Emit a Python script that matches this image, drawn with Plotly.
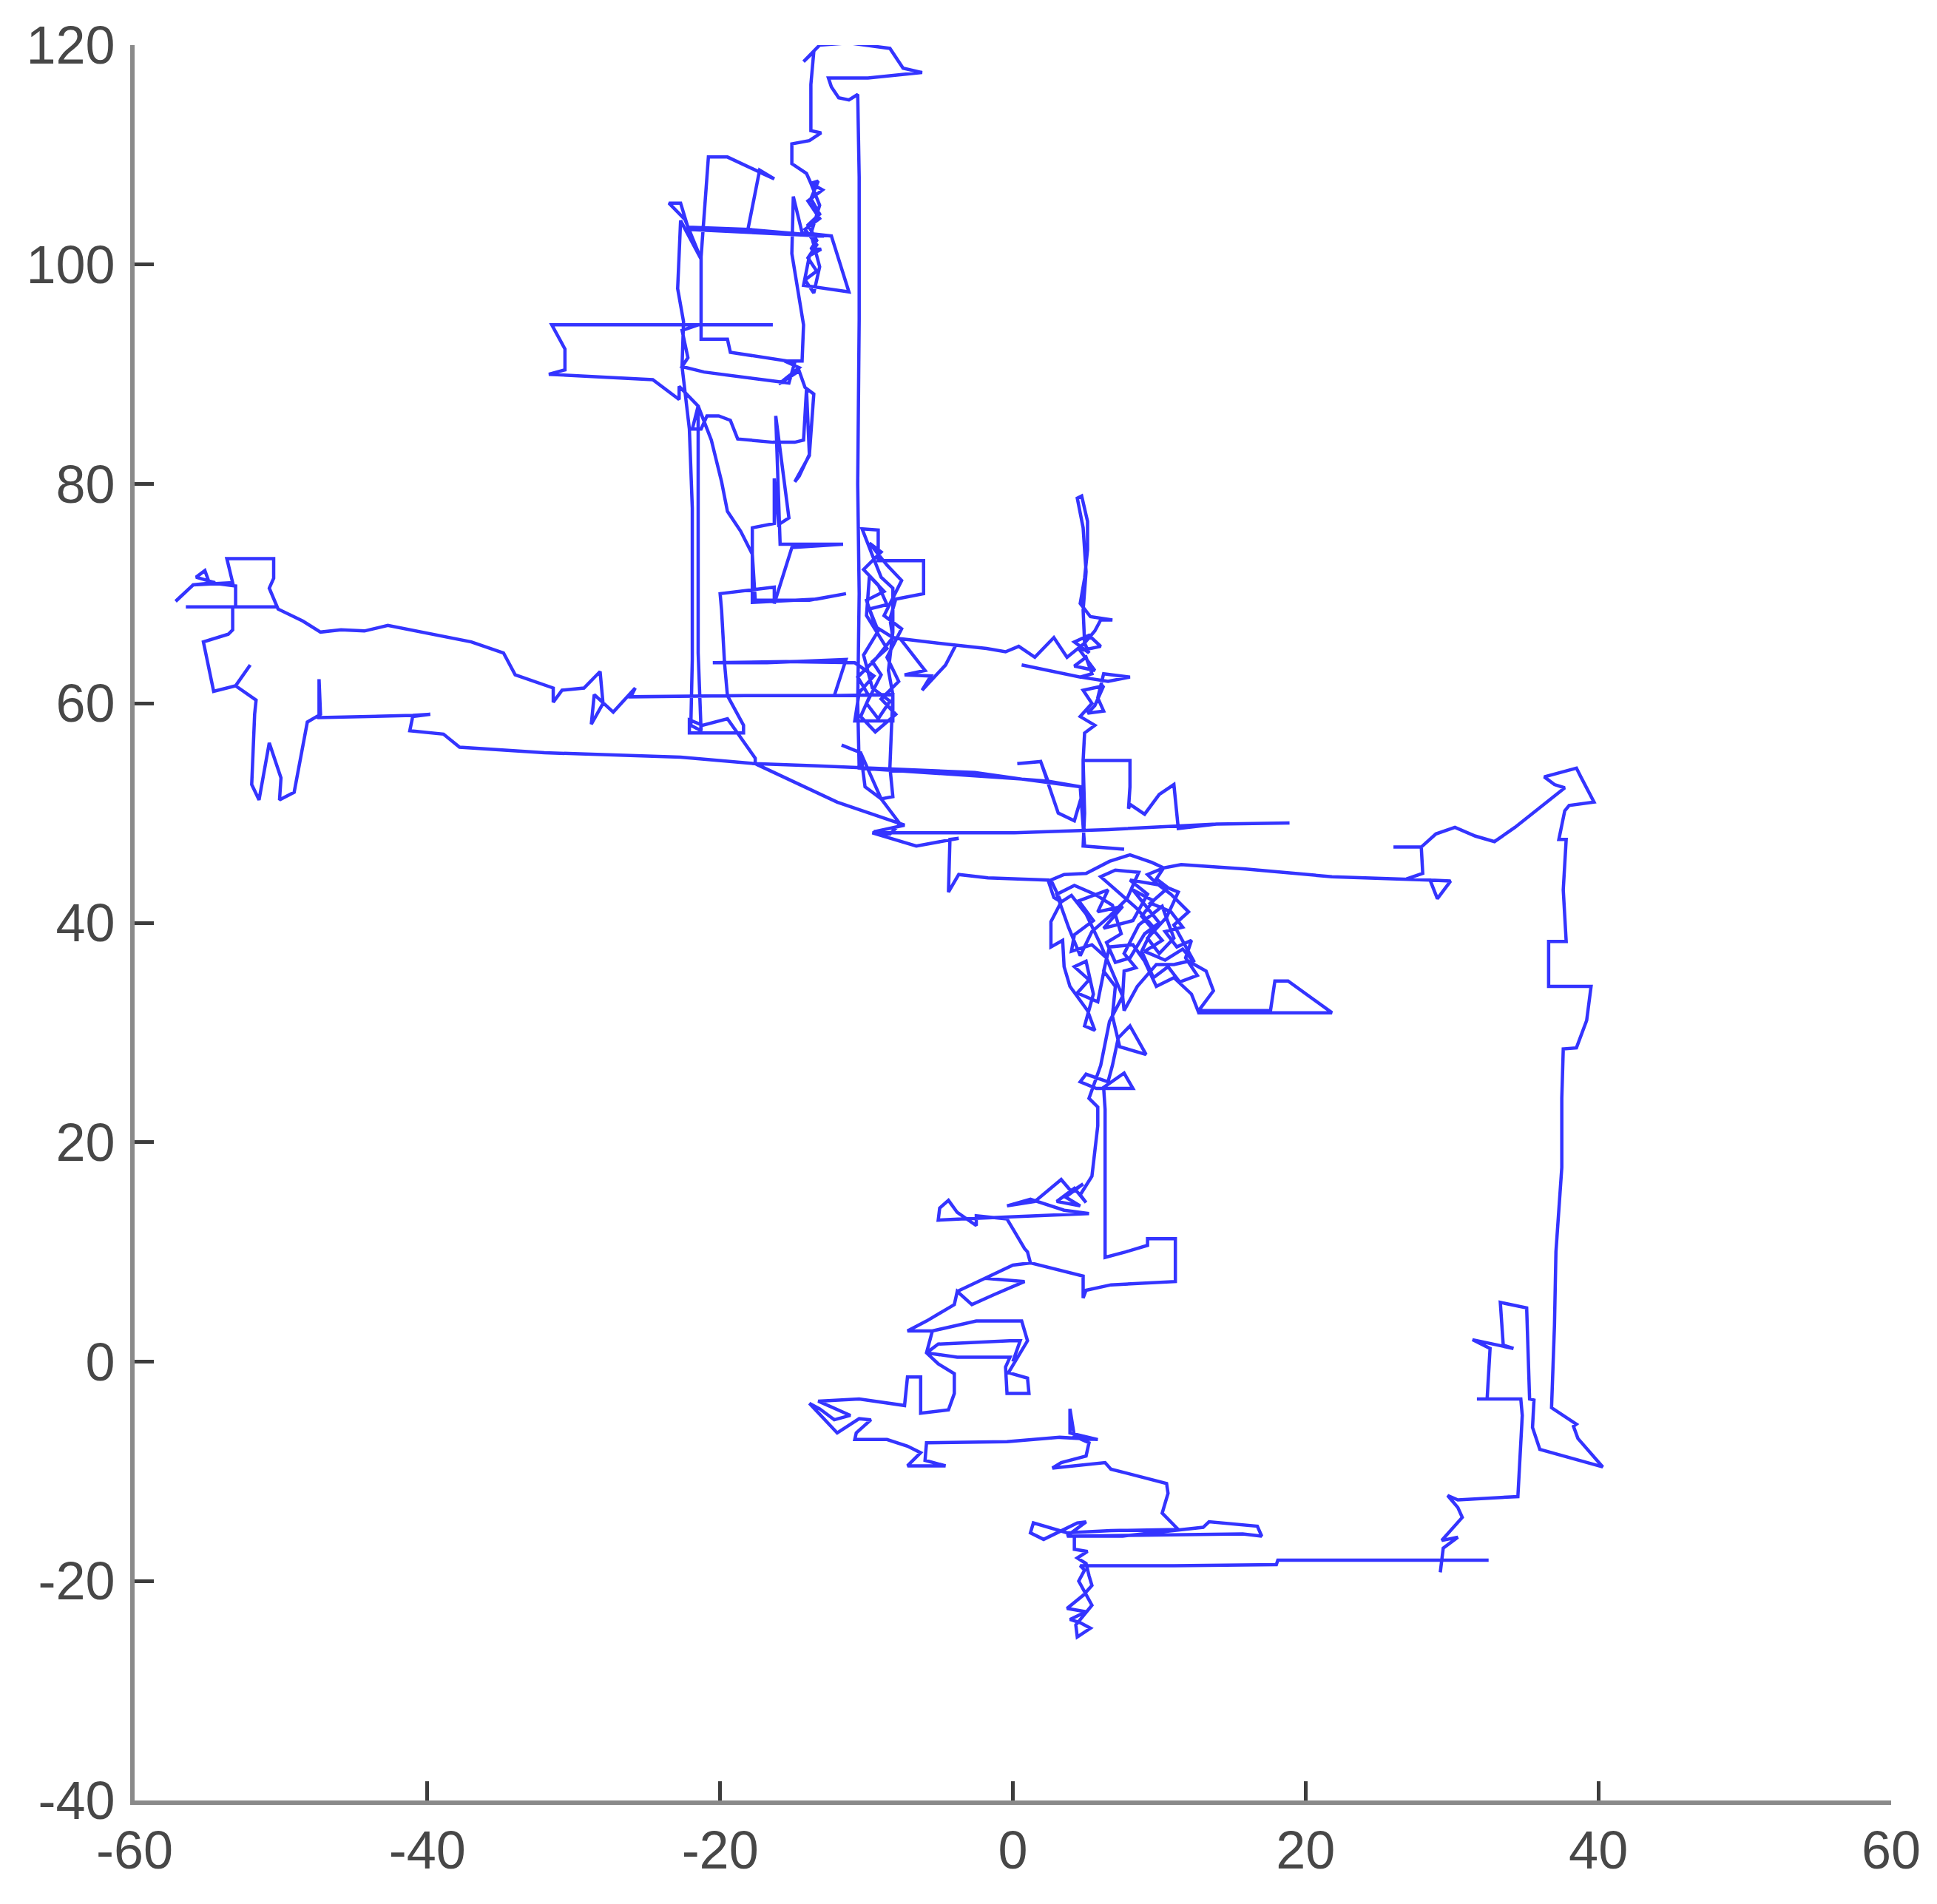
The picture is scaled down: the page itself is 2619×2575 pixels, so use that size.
import plotly.graph_objects as go

# the walk as (x, y) points
origin_and_lower = [
    (0, 0), (0.5, 1.9), (-0.2, 1.9), (-5.1, 1.6), (-5.9, 0.8), (-3.8, 0.4), (-2.3, 0.4), (-0.2, 0.4),
    (-0.5, -0.5), (-0.4, -2.9), (1.1, -2.9), (1.0, -1.5), (-0.3, -1.0), (1.0, 1.9), (0.6, 3.7),
    (-2.5, 3.7), (-5.5, 2.8), (-7.2, 2.8), (-5.9, 3.7), (-4.0, 5.2), (-3.8, 6.4), (-2.8, 5.2),
    (-1.3, 6.1), (0.8, 7.3), (-1.9, 7.6), (0.0, 8.8), (1.2, 9.0), (0.0, 8.8), (-1.9, 7.6),
    (-3.8, 6.4), (-4.0, 5.2), (-5.9, 3.7), (-7.2, 2.8), (-5.5, 2.8), (-5.9, 0.8), (-5.1, -0.2),
    (-4.0, -1.1), (-4.0, -2.9), (-4.4, -4.4), (-6.3, -4.7), (-6.3, -1.4), (-7.2, -1.4), (-7.4, -4.0),
    (-10.5, -3.4), (-13.3, -3.6), (-11.1, -4.9), (-12.2, -5.3), (-13.2, -4.3), (-13.9, -3.8),
    (-12.6, -5.6), (-12.0, -6.5), (-10.5, -5.2), (-9.7, -5.3), (-10.7, -6.5), (-10.8, -7.1),
    (-8.6, -7.1), (-7.2, -7.7), (-6.3, -8.3), (-7.2, -9.5), (-4.6, -9.5), (-6.0, -9.0), (-5.9, -7.4),
    (-0.4, -7.3), (3.2, -6.9), (5.0, -7.0), (5.8, -7.1), (3.9, -6.5), (3.9, -4.3), (4.2, -6.8),
    (5.2, -7.4), (5.0, -8.6), (3.3, -9.2), (2.7, -9.7), (6.3, -9.2), (6.7, -9.8), (10.5, -11.1),
    (10.6, -12.0), (10.2, -13.8), (11.3, -15.3), (6.7, -15.4), (3.7, -15.6), (1.4, -14.7),
    (1.2, -15.6), (2.1, -16.2), (4.4, -14.7), (5.0, -14.6), (3.7, -15.9), (7.5, -15.9), (13.0, -15.1),
    (13.4, -14.6), (16.7, -15.0), (17.0, -15.9), (15.7, -15.7), (4.2, -15.9), (4.2, -17.1),
    (5.1, -17.3), (4.4, -17.9), (5.0, -18.4),
]

bottom_and_right = [
    (5.2, -19.5), (5.4, -20.4), (4.8, -21.3), (3.7, -22.5), (5.0, -22.8), (3.9, -23.5), (4.6, -23.8),
    (5.3, -24.3), (4.4, -25.1), (4.3, -24.0), (5.4, -22.2), (4.5, -20.0), (4.9, -19.0), (4.6, -18.6),
    (11.0, -18.6), (18.0, -18.5), (18.1, -18.1), (26.0, -18.1), (32.5, -18.1), (29.3, -18.1),
    (29.2, -19.2), (29.4, -17.0), (30.4, -16.0), (29.3, -16.3), (30.7, -14.2), (30.4, -13.3),
    (29.7, -12.2), (30.4, -12.6), (34.5, -12.3), (34.6, -9.9), (34.8, -4.9), (34.7, -3.4),
    (31.7, -3.4), (32.4, -3.4), (32.6, 1.2), (31.4, 2.0), (34.2, 1.2), (33.5, 1.5), (33.3, 5.4),
    (35.1, 4.9), (35.3, -3.4), (35.6, -3.5), (35.5, -6.0), (36.0, -8.0), (40.3, -9.6), (38.6, -7.0),
    (38.3, -5.9), (38.5, -5.7), (36.8, -4.2), (37.0, 3.3), (37.1, 10.0), (37.5, 17.7), (37.5, 24.0),
    (37.6, 28.5), (38.5, 28.6), (39.2, 31.1), (39.5, 34.2), (36.6, 34.2), (36.6, 38.3), (37.8, 38.3),
    (37.6, 43.0), (37.8, 47.6), (37.3, 47.6), (37.7, 50.2), (38.0, 50.7), (39.7, 51.0), (38.8, 53.3),
    (38.5, 54.1), (36.3, 53.3), (37.0, 52.6), (37.7, 52.3), (36.0, 50.5), (34.3, 48.7), (32.9, 47.4),
    (31.6, 47.9), (30.2, 48.7), (28.9, 48.1), (27.9, 46.9), (26.0, 46.9), (27.9, 46.9), (28.0, 44.5),
    (26.9, 44.0), (29.9, 43.8), (29.0, 42.2), (28.5, 43.9), (21.8, 44.2), (15.9, 44.9), (11.5, 45.3),
    (10.3, 45.0),
]

knot_core = [
    (9.8, 44.0), (10.6, 43.2), (9.4, 41.8), (10.8, 41.0), (11.6, 39.6), (10.4, 39.2), (11.2, 37.8),
    (12.2, 38.4), (11.8, 36.8), (12.6, 35.2), (11.4, 34.6), (10.6, 36.0), (9.6, 35.0), (8.8, 37.4),
    (9.6, 39.6), (8.4, 41.4), (7.2, 42.8), (6.0, 44.2), (7.0, 44.8), (8.6, 44.6), (7.8, 42.2),
    (6.6, 40.6), (5.4, 39.2), (4.6, 37.0), (3.8, 39.6), (3.0, 42.6), (4.2, 43.4), (5.6, 42.6),
    (6.8, 41.6), (7.4, 39.0), (6.4, 38.2), (7.0, 36.4), (8.0, 36.8), (9.0, 39.0), (10.0, 40.0),
    (8.2, 43.0), (9.6, 42.0), (8.8, 40.6), (10.2, 38.4), (9.0, 37.4), (10.4, 36.6), (11.6, 37.6),
    (12.4, 36.4), (11.0, 39.8), (12.0, 41.0), (10.8, 42.6), (9.8, 43.6),
    (9.2, 44.4), (10.3, 45.0),
]

knot_and_rect = [
    (9.5, 45.5), (8.0, 46.2), (6.6, 45.6), (5.0, 44.5), (3.5, 44.4), (2.6, 43.9), (3.3, 41.9),
    (2.6, 40.1), (2.6, 37.8), (3.4, 38.4), (3.5, 36.0), (3.9, 34.2), (5.1, 32.0), (5.6, 30.2),
    (4.9, 30.6), (5.5, 33.5), (5.0, 36.5), (4.2, 36.0), (5.2, 34.8), (4.4, 33.6), (5.8, 32.8),
    (6.4, 36.8), (5.4, 38.0), (4.0, 37.4), (4.2, 38.9), (5.5, 40.2), (4.5, 42.0), (6.5, 43.0),
    (5.8, 41.0), (7.5, 41.5), (6.2, 39.5), (8.2, 40.2), (9.2, 42.6), (8.0, 43.9), (10.2, 43.4),
    (11.3, 42.8), (10.5, 40.5), (9.2, 38.6), (10.0, 37.2), (11.0, 38.6), (10.2, 41.5), (8.6, 39.8),
    (7.6, 37.2), (8.4, 35.9), (7.6, 35.6), (7.5, 33.3), (7.6, 32.0), (8.5, 34.2), (9.8, 36.2),
    (11.0, 36.2), (12.0, 36.5), (13.2, 35.6), (13.7, 33.8), (12.7, 32.0), (15.9, 32.0), (17.6, 32.0),
    (17.9, 34.7), (18.8, 34.7), (21.8, 31.8), (12.7, 31.8), (12.2, 33.5), (11.0, 35.0), (9.8, 34.2),
    (9.0, 36.5), (8.2, 38.0), (6.6, 37.8), (6.2, 35.6), (7.0, 34.2), (6.8, 31.5), (7.3, 28.7),
    (9.1, 28.0), (8.0, 30.6), (7.2, 29.5), (6.8, 27.0), (6.5, 25.5), (5.0, 26.2), (4.6, 25.5),
    (5.7, 24.9), (8.2, 24.9), (7.6, 26.3), (6.2, 25.0), (6.3, 23.0), (6.3, 16.0), (6.3, 9.5),
    (7.7, 10.0), (9.2, 10.6), (9.2, 11.2), (11.1, 11.2), (11.1, 7.3), (6.7, 7.0), (5.0, 6.5),
    (4.8, 5.8), (4.8, 7.8), (1.2, 9.0), (1.0, 10.0), (0.8, 10.3), (0.0, 12.1), (-0.4, 13.0),
    (-2.5, 13.3), (-2.5, 12.4), (-3.8, 13.6), (-4.4, 14.7), (-5.0, 14.0), (-5.1, 12.9), (-3.5, 13.0),
    (0.5, 13.2), (5.2, 13.5), (3.5, 13.8), (1.2, 14.8), (-0.4, 14.2), (1.5, 14.6), (3.3, 16.6),
    (4.0, 15.5), (4.8, 16.2), (3.6, 15.0), (4.6, 14.2), (3.0, 14.6), (4.2, 15.8),
    (5.0, 14.5), (4.6, 15.2), (5.4, 16.9), (5.6, 19.0), (5.8, 21.5), (5.8, 23.2),
    (5.2, 24.0), (6.0, 27.0), (6.6, 31.0), (7.5, 33.3), (6.0, 38.0), (5.0, 40.8), (4.0, 42.5),
    (3.3, 41.9), (2.8, 42.3),
]

knot_top_and_spine = [
    (2.4, 43.9), (-1.7, 44.1), (-3.7, 44.4), (-4.4, 42.8), (-4.3, 47.6), (-3.7, 47.7), (-6.6, 47.0),
    (-9.0, 48.0), (-9.6, 48.2), (-6.0, 48.2), (0.1, 48.2), (6.5, 48.5), (13.9, 49.0), (18.9, 49.1),
    (13.9, 49.0), (11.3, 48.6), (11.0, 52.6), (10.0, 51.7), (9.0, 49.9), (8.0, 50.8), (7.9, 50.4),
    (8.0, 52.4), (8.0, 54.8), (4.8, 54.8), (4.8, 52.0), (4.2, 49.3), (3.1, 50.0), (1.9, 54.7),
    (0.3, 54.5), (1.9, 54.7), (2.4, 52.9), (4.6, 52.4), (4.9, 47.0), (7.6, 46.7), (4.8, 47.0),
    (4.9, 50.0), (4.8, 54.8), (4.9, 57.3), (5.6, 58.0), (4.6, 58.8), (5.4, 60.0), (4.8, 61.2),
    (6.2, 61.6), (5.6, 59.8), (5.1, 59.1), (6.2, 59.3), (5.8, 60.5), (6.2, 62.7),
    (8.0, 62.4), (6.5, 62.0), (4.6, 62.4), (0.6, 63.5), (4.6, 62.4), (5.4, 62.7), (5.0, 64.2),
    (4.2, 63.4), (5.6, 63.0), (4.6, 64.8), (6.0, 65.2), (5.2, 66.2), (4.2, 65.6), (5.2, 64.6),
    (4.9, 65.5), (5.6, 66.6), (6.0, 67.6), (6.8, 67.6), (5.3, 67.9), (4.6, 69.1), (4.9, 71.4),
    (5.1, 74.0), (5.1, 76.6), (4.7, 78.9), (4.4, 78.7), (4.8, 76.0), (5.0, 72.0), (4.8, 68.5),
    (4.9, 65.5), (3.7, 64.2), (2.8, 66.0), (1.5, 64.2), (0.4, 65.2), (-0.5, 64.7), (-1.8, 65.0),
    (-3.9, 65.3), (-7.7, 65.9), (-6.0, 63.0), (-7.4, 62.6), (-5.6, 62.5), (-6.2, 61.2), (-4.6, 63.5),
    (-3.9, 65.3), (-7.7, 65.9),
]

middle_and_left = [
    (-8.2, 66.0), (-9.4, 67.0), (-10.0, 69.4), (-8.8, 70.2), (-9.8, 71.6), (-10.0, 68.0), (-8.6, 65.0),
    (-9.6, 63.8), (-9.0, 62.6), (-10.0, 60.0), (-9.2, 58.6), (-8.4, 60.2), (-9.6, 61.4), (-10.2, 64.4),
    (-9.2, 66.6), (-9.8, 68.6), (-8.6, 69.0), (-9.2, 70.8), (-10.2, 72.2), (-9.0, 73.8), (-9.8, 74.6),
    (-8.6, 72.6), (-7.6, 71.2), (-8.8, 68.0), (-7.6, 66.8), (-8.6, 64.2), (-7.8, 62.0), (-9.0, 60.4),
    (-8.0, 59.0), (-9.4, 57.4), (-10.4, 58.8), (-9.8, 60.6), (-10.6, 62.4), (-9.4, 64.0), (-8.2, 66.0),
    (-8.4, 67.7), (-8.0, 69.5), (-6.1, 70.0), (-6.1, 73.0), (-8.2, 73.0), (-9.2, 73.0),
    (-9.2, 75.8), (-10.3, 75.9), (-9.6, 73.5), (-9.0, 71.5), (-8.2, 70.5), (-8.2, 66.5), (-8.5, 63.0),
    (-8.2, 60.8), (-8.2, 58.4), (-10.8, 58.4), (-10.5, 61.0), (-9.5, 62.5), (-10.8, 63.7),
    (-15.5, 63.8), (-20.5, 63.7), (-19.7, 63.7), (-19.5, 60.7), (-18.4, 58.0), (-18.4, 57.3),
    (-22.1, 57.3), (-22.1, 58.5), (-21.2, 58.0), (-19.5, 58.6), (-17.6, 55.0), (-17.6, 54.5),
    (-22.7, 55.1), (-32.0, 55.5), (-37.8, 56.0), (-38.9, 57.2), (-41.2, 57.5), (-41.0, 58.8),
    (-39.8, 59.0), (-41.0, 58.9), (-47.4, 58.7), (-47.4, 62.2), (-47.3, 59.0), (-48.2, 58.3),
    (-49.1, 51.9), (-50.1, 51.2), (-50.0, 53.2), (-50.8, 56.4), (-51.5, 51.2), (-52.0, 52.6),
    (-51.8, 59.0), (-51.7, 60.3), (-53.1, 61.6), (-52.1, 63.5), (-53.1, 61.6), (-54.6, 61.1),
    (-55.3, 65.6), (-53.6, 66.3), (-53.3, 66.7), (-53.3, 68.8), (-56.5, 68.8), (-50.2, 68.8),
    (-53.1, 68.8), (-53.1, 70.7), (-54.9, 71.0), (-55.2, 72.1), (-55.8, 71.5), (-54.5, 71.0),
    (-56.0, 70.8), (-57.2, 69.3), (-56.0, 70.8), (-53.3, 71.0), (-53.7, 73.2), (-50.5, 73.2),
    (-50.5, 71.4), (-50.8, 70.5), (-50.2, 68.6), (-48.5, 67.5), (-47.3, 66.5), (-45.9, 66.7),
    (-44.3, 66.6), (-42.7, 67.1), (-40.4, 66.5), (-37.0, 65.6), (-34.8, 64.6), (-34.0, 62.6),
    (-31.4, 61.4), (-31.4, 60.1), (-30.8, 61.2), (-29.3, 61.4), (-28.2, 62.9), (-28.0, 60.0),
    (-28.8, 58.1), (-28.6, 60.8), (-27.3, 59.2), (-25.8, 61.4), (-26.1, 60.6), (-18.3, 60.7),
    (-12.2, 60.7), (-8.2, 60.8), (-8.4, 54.2), (-8.2, 51.5), (-9.0, 51.3), (-10.1, 52.4),
    (-10.4, 55.5), (-11.7, 56.2), (-10.4, 55.5), (-9.0, 51.3), (-7.7, 49.0), (-8.4, 48.1),
    (-9.5, 48.3), (-7.4, 48.9), (-12.0, 51.0), (-17.6, 54.5), (-13.4, 54.3), (-2.6, 53.7),
    (0.6, 53.1), (2.4, 52.9), (4.6, 52.4), (0.6, 53.1), (-10.5, 54.1),
]

tower = [
    (-10.6, 60.0), (-10.5, 70.0), (-10.6, 80.0), (-10.5, 95.0), (-10.5, 108.0), (-10.6, 115.5),
    (-11.2, 115.0), (-11.9, 115.2), (-12.4, 116.2), (-12.6, 117.0), (-9.9, 117.0), (-6.2, 117.5),
    (-7.5, 117.9), (-8.4, 119.7), (-11.2, 120.2), (-13.2, 120.0), (-14.3, 118.5), (-13.6, 119.4),
    (-13.8, 116.4), (-13.8, 112.2), (-13.1, 112.0), (-13.9, 111.3), (-15.1, 111.0), (-15.1, 109.2),
    (-14.1, 108.3), (-13.8, 107.4), (-13.0, 106.8), (-14.0, 105.8), (-13.2, 104.2), (-14.2, 103.2),
    (-13.4, 101.8), (-14.0, 100.6), (-13.4, 99.4), (-14.2, 98.6), (-13.6, 97.4), (-13.2, 99.8),
    (-13.8, 102.8), (-13.2, 105.4), (-13.8, 107.4),
    (-13.3, 107.6), (-13.8, 106.0), (-13.2, 104.6), (-14.0, 103.6),
    (-13.4, 102.2), (-13.8, 101.4), (-13.1, 101.4),
    (-13.9, 100.8), (-14.3, 98.1), (-11.2, 97.5), (-12.4, 102.6), (-14.4, 102.9), (-15.0, 106.2),
    (-15.1, 101.0), (-14.3, 94.5), (-14.4, 91.2), (-15.6, 91.2), (-14.6, 90.6), (-16.0, 89.1),
    (-14.6, 90.3), (-14.2, 88.8), (-13.6, 88.2), (-13.9, 82.7), (-14.6, 80.7), (-14.9, 80.2),
    (-13.9, 82.6), (-14.1, 88.6), (-14.3, 84.0), (-14.9, 83.8), (-16.4, 83.8), (-18.8, 84.1),
    (-19.3, 85.8), (-20.1, 86.2), (-20.9, 86.2), (-21.3, 85.0), (-21.9, 85.0), (-21.5, 87.1),
    (-22.8, 88.9), (-22.8, 87.7), (-24.6, 89.5), (-28.4, 89.8), (-31.7, 90.0), (-30.6, 90.4),
    (-30.6, 92.3), (-31.5, 94.5), (-16.4, 94.5), (-21.5, 94.5), (-22.6, 94.0), (-22.2, 91.5),
    (-22.6, 90.7), (-21.1, 90.2), (-15.3, 89.2), (-14.9, 91.1), (-19.3, 92.0), (-19.5, 93.2),
    (-21.3, 93.2), (-21.3, 100.7), (-20.8, 109.8), (-19.5, 109.8), (-17.1, 108.3), (-16.3, 107.8),
    (-17.3, 108.6), (-17.8, 105.0), (-18.1, 103.2), (-22.2, 103.2), (-12.9, 102.6), (-18.1, 103.2),
    (-22.2, 103.4), (-22.7, 105.6), (-23.5, 105.6), (-22.4, 104.1), (-21.3, 100.5), (-22.7, 104.0),
    (-22.9, 97.8), (-22.5, 94.8), (-22.6, 90.7), (-22.1, 85.0), (-21.9, 77.8), (-21.9, 70.0),
    (-21.9, 64.0), (-22.0, 58.0), (-21.3, 57.5), (-21.5, 64.6), (-21.5, 75.0), (-21.5, 87.1),
    (-20.6, 84.0), (-19.9, 80.2), (-19.5, 77.5), (-18.6, 75.7), (-17.8, 73.6), (-17.6, 69.4),
    (-13.9, 69.4), (-11.4, 70.0), (-13.4, 69.5), (-17.8, 69.2), (-17.8, 76.0), (-16.3, 76.4),
    (-16.3, 80.5), (-16.0, 76.3), (-15.3, 76.9), (-16.2, 86.2), (-15.9, 74.5), (-11.6, 74.5),
    (-15.1, 74.2), (-16.3, 69.1), (-16.3, 70.6), (-20.0, 70.0), (-19.9, 68.5), (-19.7, 63.7),
    (-16.8, 63.7), (-11.4, 64.0), (-12.2, 60.7),
]

x_ticks = [-60, -40, -20, 0, 20, 40, 60]
y_ticks = [-40, -20, 0, 20, 40, 60, 80, 100, 120]

legs = [origin_and_lower, bottom_and_right, knot_core, knot_and_rect,
        knot_top_and_spine, middle_and_left, tower]
xs = [p[0] for leg in legs for p in leg]
ys = [p[1] for leg in legs for p in leg]

fig = go.Figure()
fig.add_trace(go.Scatter(
    x=xs, y=ys,
    mode="lines",
    line=dict(color="#3434ff", width=4.5),
    showlegend=False,
))

tick_font = dict(family="Liberation Sans, Arial", size=72, color="#474747")

axis_style = dict(
    ticks="inside",
    ticklen=26,
    tickwidth=5,
    tickcolor="#3c3c3c",
    showline=True,
    linewidth=6,
    linecolor="#8a8a8a",
    showgrid=False,
    zeroline=False,
    tickfont=tick_font,
)

fig.update_layout(
    width=2619,
    height=2575,
    paper_bgcolor="white",
    plot_bgcolor="white",
    margin=dict(l=174, r=70, t=53, b=148),
    xaxis=dict(range=[-60, 60], tickvals=x_ticks,
               ticktext=[str(v) for v in x_ticks], ticklabelstandoff=0, **axis_style),
    yaxis=dict(range=[-40, 120], tickvals=y_ticks,
               ticktext=[str(v) for v in y_ticks], ticklabelstandoff=6, **axis_style),
)

fig.write_html("out.html")
